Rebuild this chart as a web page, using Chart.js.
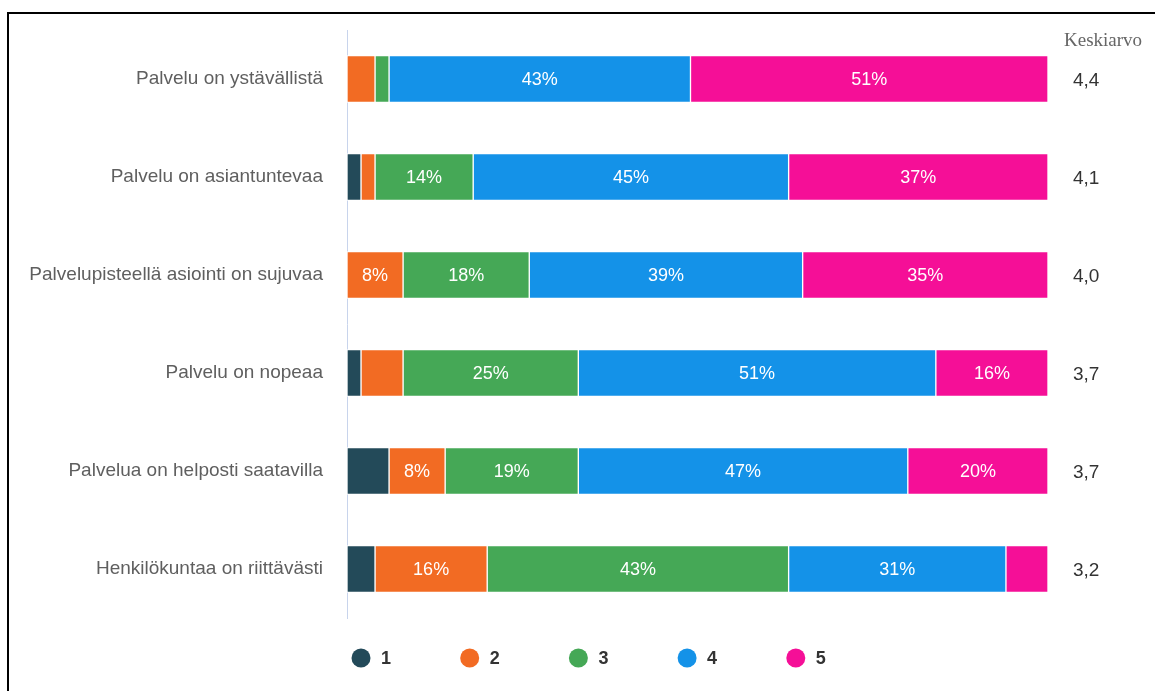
<!DOCTYPE html>
<html>
<head>
<meta charset="utf-8">
<script src="https://cdn.jsdelivr.net/npm/chart.js@4"></script>
<style>
  html, body { margin: 0; padding: 0; background: #fff; overflow: hidden; }
  #wrap { position: relative; width: 1155px; height: 691px; }
  #frame {
    position: absolute; left: 7px; top: 12px; width: 1300px; height: 800px;
    border-left: 2px solid #000; border-top: 2px solid #000;
  }
  canvas { position: absolute; left: 0; top: 0; }
</style>
</head>
<body>
<div id="wrap">
  <div id="frame"></div>
  <canvas id="kysely" width="1155" height="691"></canvas>
</div>
<script>
// kysymykset
var kysymykset = [
  "Palvelu on ystävällistä",
  "Palvelu on asiantuntevaa",
  "Palvelupisteellä asiointi on sujuvaa",
  "Palvelu on nopeaa",
  "Palvelua on helposti saatavilla",
  "Henkilökuntaa on riittävästi"
];

// vastausten osuudet (%) arvosanoittain 1-5
var arvo1 = [0, 2, 0, 2, 6, 4];
var arvo2 = [4, 2, 8, 6, 8, 16];
var arvo3 = [2, 14, 18, 25, 19, 43];
var arvo4 = [43, 45, 39, 51, 47, 31];
var arvo5 = [51, 37, 35, 16, 20, 6];

// keskiarvot
var keskiarvot = [4.4, 4.1, 4.0, 3.7, 3.7, 3.2];

var sarjat = ["1", "2", "3", "4", "5"];
var varit = ["#234a59", "#f26b23", "#45a856", "#1492e8", "#f50f97"];

// prosenttiluvut palkkien sisään
var prosentit = {
  id: "prosentit",
  afterDatasetsDraw: function (chart) {
    var ctx = chart.ctx;
    ctx.save();
    ctx.font = "18px 'Liberation Sans', Arial, sans-serif";
    ctx.fillStyle = "#fff";
    ctx.textAlign = "center";
    ctx.textBaseline = "middle";
    chart.data.datasets.forEach(function (ds, i) {
      chart.getDatasetMeta(i).data.forEach(function (bar, j) {
        var v = ds.data[j];
        if (v < 8) return;
        var p = bar.getProps(["x", "y", "base"], true);
        ctx.fillText(v + "%", (p.x + p.base) / 2, p.y + 1);
      });
    });
    ctx.restore();
  }
};

// keskiarvosarake oikealla + selite alhaalla
var lisat = {
  id: "lisat",
  afterDraw: function (chart) {
    var ctx = chart.ctx;
    var y = chart.scales.y;
    ctx.save();
    ctx.font = "19px 'Liberation Serif', 'Times New Roman', serif";
    ctx.fillStyle = "#666";
    ctx.textAlign = "left";
    ctx.textBaseline = "middle";
    ctx.fillText("Keskiarvo", 1064, 41);

    ctx.font = "19px 'Liberation Sans', Arial, sans-serif";
    ctx.fillStyle = "#333";
    keskiarvot.forEach(function (k, i) {
      ctx.fillText(k.toFixed(1).replace(".", ","), 1073, y.getPixelForValue(i) + 2);
    });

    ctx.font = "bold 18px 'Liberation Sans', Arial, sans-serif";
    sarjat.forEach(function (s, i) {
      var cx = 361 + i * 108.7;
      ctx.beginPath();
      ctx.arc(cx, 658, 9.5, 0, Math.PI * 2);
      ctx.fillStyle = varit[i];
      ctx.fill();
      ctx.fillStyle = "#333";
      ctx.fillText(s, cx + 20, 659);
    });
    ctx.restore();
  }
};

var data = [arvo1, arvo2, arvo3, arvo4, arvo5];

new Chart(document.getElementById("kysely"), {
  type: "bar",
  data: {
    labels: kysymykset,
    datasets: sarjat.map(function (s, i) {
      return {
        label: s,
        data: data[i],
        backgroundColor: varit[i],
        borderColor: "#fff",
        borderWidth: 1,
        borderSkipped: false,
        barThickness: 47
      };
    })
  },
  options: {
    indexAxis: "y",
    responsive: false,
    animation: false,
    layout: { padding: { left: 0, top: 30, right: 107, bottom: 73 } },
    plugins: {
      legend: { display: false },
      tooltip: { enabled: false }
    },
    scales: {
      x: { stacked: true, min: 0, max: 100, display: false },
      y: {
        stacked: true,
        grid: { display: false, drawTicks: false },
        border: { display: true, color: "#c8d4ec", width: 1 },
        ticks: {
          padding: 24,
          color: "#5f5f5f",
          font: { family: "'Liberation Sans', Arial, sans-serif", size: 19 }
        },
        afterFit: function (scale) {
          scale.width = 347;
          scale.paddingTop = 0;
          scale.paddingBottom = 0;
        }
      }
    }
  },
  plugins: [prosentit, lisat]
});
</script>
</body>
</html>
